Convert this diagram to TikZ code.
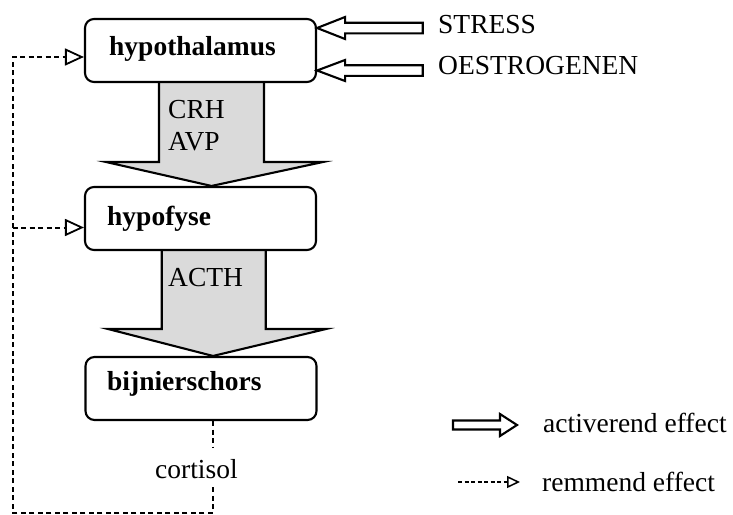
\documentclass[tikz,border=0pt]{standalone}
\usepackage{fontspec}
\setmainfont{Liberation Serif}
\usetikzlibrary{calc,arrows.meta}
\pgfdeclarelayer{bg}
\pgfsetlayers{bg,main}
\definecolor{arrowgray}{RGB}{218,218,218}
\begin{document}
\begin{tikzpicture}[x=1pt,y=-1pt,
  txt/.style={font=\fontsize{27.5}{33}\selectfont, inner sep=0pt, anchor=base west},
  btxt/.style={font=\fontsize{27.5}{33}\selectfont\bfseries, inner sep=0pt, anchor=base west},
  boxst/.style={draw, fill=white, line width=2.1pt, rounded corners=9pt, minimum width=231pt, minimum height=63pt, inner sep=0pt},
  bigarr/.style={draw, line width=2.1pt, fill=arrowgray, line join=miter},
  hollow/.style={draw, line width=2.1pt, fill=white, line join=miter},
  inhib/.style={draw, line width=2pt, dash pattern=on 5pt off 3.5pt},
  inhibtip/.style={-{Triangle[open, length=19pt, width=17pt, line width=1.8pt]}},
  legtip/.style={-{Triangle[open, length=13pt, width=12pt, line width=1.5pt]}}
]
\useasboundingbox (0,0) rectangle (733,514);

% boxes
\node[boxst] (hyp) at (200.5,50.5) {};
\node[boxst] (hpf) at (200.5,218.5) {};
\node[boxst] (bij) at (201,388.5) {};
\node[btxt] (thyp) at (109,55) {hypothalamus};
\node[btxt] (thpf) at (107,225) {hypofyse};
\node[btxt] (tbij) at (107,390) {bijnierschors};

% big grey arrows
\coordinate (a1l) at (159,0);
\coordinate (a1r) at (264,0);
\coordinate (a1hl) at (106,0);
\coordinate (a1hr) at (323,0);
\coordinate (a1t) at (211.5,0);
\coordinate (a1b) at (0,162);
\coordinate (a2l) at (161.7,0);
\coordinate (a2r) at (265.7,0);
\coordinate (a2hl) at (108,0);
\coordinate (a2hr) at (326,0);
\coordinate (a2t) at (213,0);
\coordinate (a2b) at (0,329);
\begin{pgfonlayer}{bg}
\draw[bigarr] (hyp.south -| a1l) -- (a1l |- a1b) -- (a1hl |- a1b) -- (hpf.north -| a1t) -- (a1hr |- a1b) -- (a1r |- a1b) -- (hyp.south -| a1r);
\draw[bigarr] (hpf.south -| a2l) -- (a2l |- a2b) -- (a2hl |- a2b) -- (bij.north -| a2t) -- (a2hr |- a2b) -- (a2r |- a2b) -- (hpf.south -| a2r);
\end{pgfonlayer}
\node[txt] (crh) at (168,118) {CRH};
\node[txt] (avp) at (168,150) {AVP};
\node[txt] (acth) at (168,286) {ACTH};

% inputs
\node[txt] (stress) at (438,33.5) {STRESS};
\node[txt] (oes) at (438,74) {OESTROGENEN};
\coordinate (sy) at (0,28);
\coordinate (oy) at (0,70.5);
\coordinate (st) at (hyp.east |- sy);
\coordinate (ot) at (hyp.east |- oy);
\draw[hollow] (st) -- ++(28,-11) -- ++(0,5.7) -- ++(77.7,0) -- ++(0,10.6) -- ++(-77.7,0) -- ++(0,5.7) -- cycle;
\draw[hollow] (ot) -- ++(28,-10.5) -- ++(0,5.2) -- ++(77.7,0) -- ++(0,10.6) -- ++(-77.7,0) -- ++(0,5.2) -- cycle;

% feedback
\node[txt] (cort) at (155,478) {cortisol};
\coordinate (cx) at (213.3,0);
\coordinate (bl) at (12.7,512.5);
\coordinate (hypin) at ($(hyp.west)+(0,6.5)$);
\coordinate (hpfin) at ($(hpf.west)+(0,9)$);
\draw[inhib] (bij.south -| cx) -- ($(cort.north -| cx)+(0,-11)$);
\draw[inhib, inhibtip] ($(cort.south -| cx)+(0,9)$) |- (bl) |- (hypin);
\draw[inhib, inhibtip] (bl |- hpfin) -- (hpfin);

% legend
\coordinate (la) at (517,425);
\draw[hollow] (la) -- ++(-17,-11) -- ++(0,6.5) -- ++(-47,0) -- ++(0,9) -- ++(47,0) -- ++(0,6.5) -- cycle;
\node[txt] (lact) at (543,432.5) {activerend effect};
\coordinate (lr1) at (458,482);
\coordinate (lr2) at (520,482);
\draw[line width=1.5pt, dash pattern=on 4pt off 2.5pt, legtip] (lr1) -- (lr2);
\node[txt] (lrem) at (542,491.5) {remmend effect};
\end{tikzpicture}
\end{document}
